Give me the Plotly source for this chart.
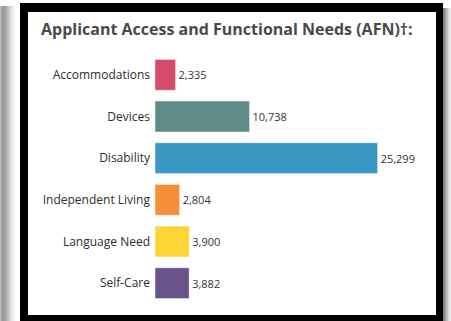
import plotly.graph_objects as go

categories = ["Accommodations", "Devices", "Disability", "Independent Living", "Language Need", "Self-Care"]
values = [2335, 10738, 25299, 2804, 3900, 3882]
colors = ["#D64B6A", "#5E8A87", "#3B98C4", "#F5903A", "#FDD535", "#68548A"]
title_text = "Applicant Access and Functional Needs (AFN)†:"

W, H = 451, 321
L, R, T, B = 155, 32, 54, 17
PW, PH = W - L - R, H - T - B

def px(x):
    return (x - L) / PW

def py(y):
    return (H - B - y) / PH

fig = go.Figure()
fig.add_trace(go.Bar(
    y=categories, x=values, orientation="h",
    marker=dict(color=colors, line=dict(color="rgba(255,255,255,0.45)", width=1)),
    text=[f"{v:,}" for v in values], textposition="outside",
    textfont=dict(size=11, color="#333333", family="Open Sans"),
    cliponaxis=False, hoverinfo="skip",
))

shapes = []
# outer gray shadows (left and right)
left_grad = ["#b8b8b8", "#a8a8a8", "#9c9c9c", "#999999", "#9c9c9c", "#a3a3a3", "#adadad", "#b8b8b8",
             "#c4c4c4", "#cfcfcf", "#dadada", "#e3e3e3", "#ebebeb", "#f1f1f1", "#f6f6f6", "#fafafa",
             "#fcfcfc", "#ffffff", "#ffffff", "#ffffff"]
for i, c in enumerate(left_grad):
    shapes.append(dict(type="rect", xref="paper", yref="paper", x0=px(i), x1=px(i + 1),
                       y0=py(H), y1=py(6), fillcolor=c, line=dict(width=0), layer="below"))
right_grad = ["#7a7a7a", "#8c8c8c", "#a0a0a0", "#b4b4b4", "#c6c6c6", "#d6d6d6", "#e4e4e4", "#efefef"]
for i, c in enumerate(right_grad):
    shapes.append(dict(type="rect", xref="paper", yref="paper", x0=px(443 + i), x1=px(444 + i),
                       y0=py(H), y1=py(8), fillcolor=c, line=dict(width=0), layer="below"))
# black frame and white card
shapes.append(dict(type="rect", xref="paper", yref="paper", x0=px(20), x1=px(443),
                   y0=py(H), y1=py(3), fillcolor="#000000", line=dict(width=0), layer="below"))
shapes.append(dict(type="rect", xref="paper", yref="paper", x0=px(28), x1=px(436),
                   y0=py(315), y1=py(12), fillcolor="#ffffff", line=dict(width=0), layer="below"))

fig.update_layout(
    width=W, height=H,
    margin=dict(l=L, r=R, t=T, b=B, pad=0),
    paper_bgcolor="#ffffff", plot_bgcolor="rgba(0,0,0,0)",
    showlegend=False, bargap=0.26,
    shapes=shapes,
    title=dict(text=f"<b>{title_text}</b>", x=41 / W, xanchor="left", xref="container",
               y=1 - 29 / H, yanchor="middle", yref="container",
               font=dict(family="Open Sans", size=16, color="#4a4a4a")),
    xaxis=dict(range=[0, PW / 0.0088], visible=False, fixedrange=True),
    yaxis=dict(autorange="reversed", showgrid=False, zeroline=False, showline=False, ticks="",
               ticklabelstandoff=4, tickfont=dict(family="Open Sans", size=12, color="#2e2e2e"),
               fixedrange=True),
)

fig.write_html("out.html")
